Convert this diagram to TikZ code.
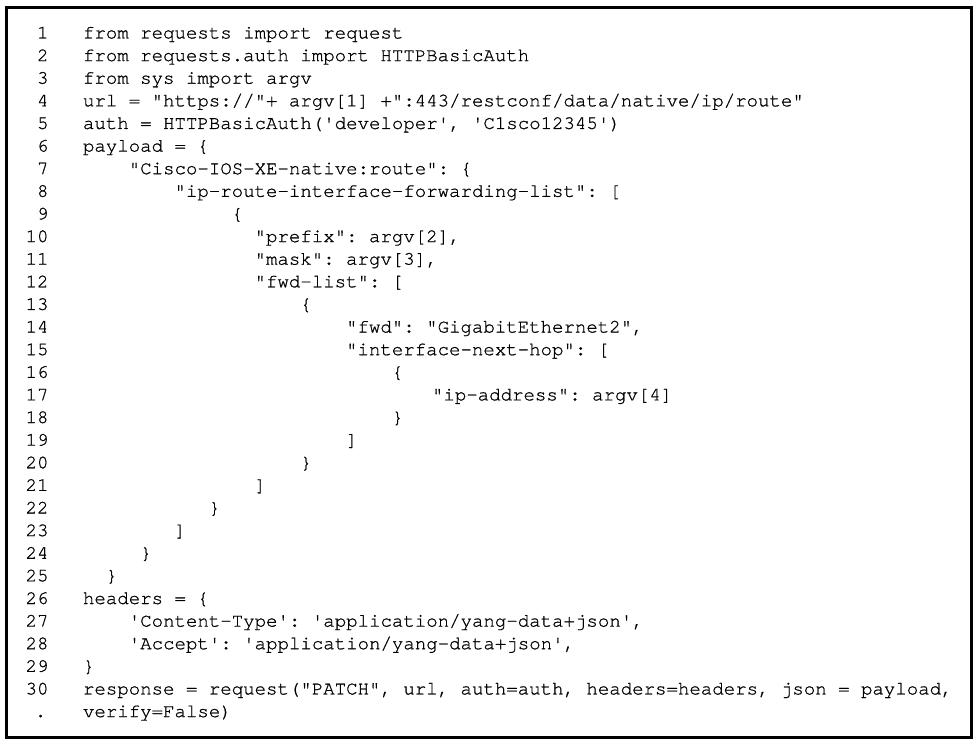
\documentclass[tikz,border=0pt]{standalone}
\usepackage{fontspec}
\setmonofont[Ligatures={NoCommon,NoRequired,NoContextual}, FakeBold=0.8]{texgyrecursor-regular.otf}
\frenchspacing
\tikzset{
  codeline/.style={anchor=base west, inner sep=0pt, outer sep=0pt, font=\ttfamily\fontsize{19.07}{22.62}\selectfont, text=black},
  numline/.style={anchor=base east, inner sep=0pt, outer sep=0pt, font=\ttfamily\fontsize{19.07}{22.62}\selectfont, text=black},
  framebox/.style={draw=black, line width=3pt}
}
\begin{document}
\begin{tikzpicture}[x=1pt,y=-1pt]
\useasboundingbox (0,0) rectangle (978,743);
\fill[white] (0,0) rectangle (978,743);
\draw[framebox] (6.3,7.3) rectangle (971.5,737.6);
% line numbers
\node[numline] (n1)  at (48.5,38.5)   {1};
\node[numline] (n2)  at (48.5,61.12)  {2};
\node[numline] (n3)  at (48.5,83.74)  {3};
\node[numline] (n4)  at (48.5,106.36) {4};
\node[numline] (n5)  at (48.5,128.98) {5};
\node[numline] (n6)  at (48.5,151.6)  {6};
\node[numline] (n7)  at (48.5,174.22) {7};
\node[numline] (n8)  at (48.5,196.84) {8};
\node[numline] (n9)  at (48.5,219.46) {9};
\node[numline] (n10) at (48.5,242.08) {10};
\node[numline] (n11) at (48.5,264.7)  {11};
\node[numline] (n12) at (48.5,287.32) {12};
\node[numline] (n13) at (48.5,309.94) {13};
\node[numline] (n14) at (48.5,332.56) {14};
\node[numline] (n15) at (48.5,355.18) {15};
\node[numline] (n16) at (48.5,377.8)  {16};
\node[numline] (n17) at (48.5,400.42) {17};
\node[numline] (n18) at (48.5,423.04) {18};
\node[numline] (n19) at (48.5,445.66) {19};
\node[numline] (n20) at (48.5,468.28) {20};
\node[numline] (n21) at (48.5,490.9)  {21};
\node[numline] (n22) at (48.5,513.52) {22};
\node[numline] (n23) at (48.5,536.14) {23};
\node[numline] (n24) at (48.5,558.76) {24};
\node[numline] (n25) at (48.5,581.38) {25};
\node[numline] (n26) at (48.5,604.0)  {26};
\node[numline] (n27) at (48.5,626.62) {27};
\node[numline] (n28) at (48.5,649.24) {28};
\node[numline] (n29) at (48.5,671.86) {29};
\node[numline] (n30) at (48.5,694.48) {30};
\node[numline] (n31) at (46.3,717.1)  {.};
% code
\node[codeline] (c1)  at (83,38.5)     {from requests import request};
\node[codeline] (c2)  at (83,61.12)    {from requests.auth import HTTPBasicAuth};
\node[codeline] (c3)  at (83,83.74)    {from sys import argv};
\node[codeline] (c4)  at (83,106.36)   {url = "https://"+ argv[1] +":443/restconf/data/native/ip/route"};
\node[codeline] (c5)  at (83,128.98)   {auth = HTTPBasicAuth('developer', 'C1sco12345')};
\node[codeline] (c6)  at (83,151.6)    {payload = \{};
\node[codeline] (c7)  at (128.8,174.22) {"Cisco-IOS-XE-native:route": \{};
\node[codeline] (c8)  at (174.5,196.84) {"ip-route-interface-forwarding-list": [};
\node[codeline] (c9)  at (231.7,219.46) {\{};
\node[codeline] (c10) at (254.6,242.08) {"prefix": argv[2],};
\node[codeline] (c11) at (254.6,264.7)  {"mask": argv[3],};
\node[codeline] (c12) at (254.6,287.32) {"fwd-list": [};
\node[codeline] (c13) at (300.4,309.94) {\{};
\node[codeline] (c14) at (346.1,332.56) {"fwd": "GigabitEthernet2",};
\node[codeline] (c15) at (346.1,355.18) {"interface-next-hop": [};
\node[codeline] (c16) at (391.9,377.8)  {\{};
\node[codeline] (c17) at (432,400.42)   {"ip-address": argv[4]};
\node[codeline] (c18) at (391.9,423.04) {\}};
\node[codeline] (c19) at (346.1,445.66) {]};
\node[codeline] (c20) at (300.4,468.28) {\}};
\node[codeline] (c21) at (254.6,490.9)  {]};
\node[codeline] (c22) at (208.8,513.52) {\}};
\node[codeline] (c23) at (174.5,536.14) {]};
\node[codeline] (c24) at (140.2,558.76) {\}};
\node[codeline] (c25) at (105.9,581.38) {\}};
\node[codeline] (c26) at (83,604.0)     {headers = \{};
\node[codeline] (c27) at (128.8,626.62) {'Content-Type': 'application/yang-data+json',};
\node[codeline] (c28) at (128.8,649.24) {'Accept': 'application/yang-data+json',};
\node[codeline] (c29) at (83,671.86)    {\}};
\node[codeline] (c30) at (83,694.48)    {response = request("PATCH", url, auth=auth, headers=headers, json = payload,};
\node[codeline] (c31) at (83,717.1)     {verify=False)};
\end{tikzpicture}
\end{document}
